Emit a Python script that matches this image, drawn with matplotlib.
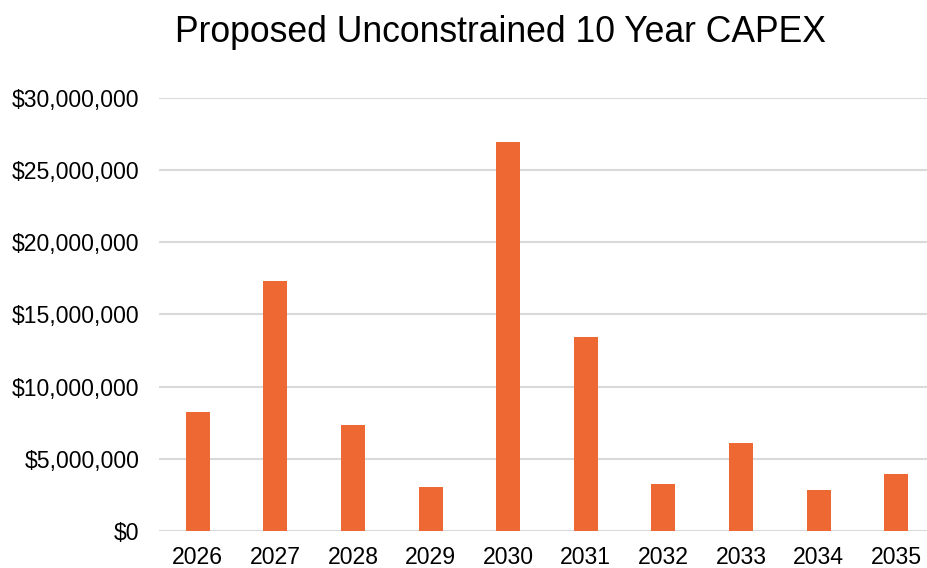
import matplotlib
matplotlib.use("Agg")
import matplotlib.pyplot as plt
from matplotlib.ticker import FuncFormatter

years = ["2026", "2027", "2028", "2029", "2030", "2031", "2032", "2033", "2034", "2035"]
capex = [8.22e6, 17.31e6, 7.34e6, 3.02e6, 26.91e6, 13.45e6, 3.23e6, 6.09e6, 2.84e6, 3.92e6]

plt.rcParams["font.family"] = ["Liberation Sans", "DejaVu Sans"]

fig = plt.figure(figsize=(9.27, 5.68), dpi=100)
ax = fig.add_axes([159 / 927, 37 / 568, 776 / 927, 433.3 / 568])

x = range(len(years))
ax.bar(x, capex, width=0.31, color="#EE6833", zorder=3)

ax.set_xlim(-0.5, len(years) - 0.5)
ax.set_ylim(0, 30e6)
ax.set_yticks([0, 5e6, 10e6, 15e6, 20e6, 25e6, 30e6])
ax.yaxis.set_major_formatter(FuncFormatter(lambda v, p: f"${v:,.0f}"))
ax.set_xticks(list(x))
ax.set_xticklabels(years)

ax.grid(axis="y", color="#d9d9d9", linewidth=1.5, zorder=0)
for s in ax.spines.values():
    s.set_visible(False)
ax.tick_params(axis="both", length=0, labelsize=16.6, colors="black")
ax.tick_params(axis="y", pad=14)
ax.tick_params(axis="x", pad=11)

fig.text(500 / 927, 1 - 33 / 568, "Proposed Unconstrained 10 Year CAPEX",
         ha="center", va="center", fontsize=25.6)

fig.savefig("out.png", dpi=100)
